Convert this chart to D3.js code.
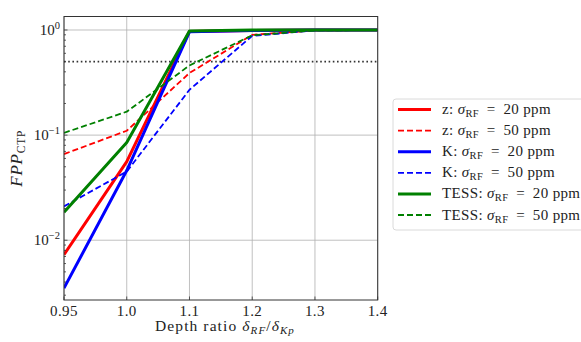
<!DOCTYPE html>
<html>
<head>
<meta charset="utf-8">
<script src="https://cdn.jsdelivr.net/npm/d3@7"></script>
<style>
  body { margin: 0; background: #fff; }
  svg { display: block; font-family: "Liberation Serif", "DejaVu Serif", serif; }
</style>
</head>
<body>
<svg width="581" height="342"></svg>
<script>
// data
var depthRatios = [0.95, 1.0, 1.1, 1.2, 1.3, 1.4],
    xTickLabels = ["0.95", "1.0", "1.1", "1.2", "1.3", "1.4"],
    zSig20 = [0.0073, 0.056, 0.97, 0.99, 1.0, 1.0],
    zSig50 = [0.066, 0.11, 0.39, 0.90, 0.99, 1.0],
    kSig20 = [0.0035, 0.046, 0.96, 0.99, 1.0, 1.0],
    kSig50 = [0.021, 0.045, 0.27, 0.88, 0.99, 1.0],
    tessSig20 = [0.0185, 0.085, 0.98, 1.0, 1.0, 1.0],
    tessSig50 = [0.105, 0.167, 0.46, 0.89, 0.99, 1.0],
    yTickValues = [1, 0.1, 0.01],
    yTickExps = ["0", "\u22121", "\u22122"],
    threshold = 0.5;

var series = [
    {band: "z", sigma: 20, values: zSig20, color: "#ff0000", dashed: false},
    {band: "z", sigma: 50, values: zSig50, color: "#ff0000", dashed: true},
    {band: "K", sigma: 20, values: kSig20, color: "#0000ff", dashed: false},
    {band: "K", sigma: 50, values: kSig50, color: "#0000ff", dashed: true},
    {band: "TESS", sigma: 20, values: tessSig20, color: "#008000", dashed: false},
    {band: "TESS", sigma: 50, values: tessSig50, color: "#008000", dashed: true}
];

var svg = d3.select("svg"),
    plotL = 64, plotR = 377.7, plotT = 16.5, plotB = 300;

var x = d3.scalePoint().domain(xTickLabels).range([plotL, plotR]).padding(0),
    y = d3.scaleLog().domain([0.0027, 1.344]).range([plotB, plotT]);

// grid
var grid = svg.append("g").attr("stroke", "#b0b0b0").attr("stroke-width", 0.8);
grid.selectAll(".vg").data(xTickLabels).enter().append("line")
    .attr("x1", function(d) { return x(d); }).attr("x2", function(d) { return x(d); })
    .attr("y1", plotT).attr("y2", plotB);
grid.selectAll(".hg").data(yTickValues).enter().append("line")
    .attr("x1", plotL).attr("x2", plotR)
    .attr("y1", function(d) { return y(d); }).attr("y2", function(d) { return y(d); });

// threshold line
svg.append("line")
    .attr("x1", plotL).attr("x2", plotR)
    .attr("y1", y(threshold)).attr("y2", y(threshold))
    .attr("stroke", "#333").attr("stroke-width", 1.6)
    .attr("stroke-dasharray", "1.6,2.6");

// series
svg.append("clipPath").attr("id", "plotclip").append("rect")
    .attr("x", plotL).attr("y", plotT).attr("width", plotR - plotL).attr("height", plotB - plotT);

var line = d3.line()
    .x(function(d, i) { return x(xTickLabels[i]); })
    .y(function(d) { return y(d); });

svg.append("g").attr("clip-path", "url(#plotclip)")
    .selectAll("path").data(series).enter().append("path")
    .attr("d", function(d) { return line(d.values); })
    .attr("fill", "none")
    .attr("stroke", function(d) { return d.color; })
    .attr("stroke-width", function(d) { return d.dashed ? 1.8 : 3; })
    .attr("stroke-dasharray", function(d) { return d.dashed ? "6,3" : null; })
    .attr("stroke-linejoin", "round");

// ticks (inward)
var ticks = svg.append("g").attr("stroke", "#333").attr("stroke-width", 0.8);
ticks.selectAll(".xt").data(xTickLabels).enter().append("line")
    .attr("x1", function(d) { return x(d); }).attr("x2", function(d) { return x(d); })
    .attr("y1", plotB).attr("y2", plotB - 3.5);
var minor = [];
[0.001, 0.01, 0.1, 1].forEach(function(dec) {
    for (var k = 2; k <= 9; k++) {
        var v = dec * k;
        if (v >= 0.0027 && v <= 1.344) minor.push(v);
    }
});
ticks.selectAll(".ymn").data(minor).enter().append("line")
    .attr("x1", plotL).attr("x2", plotL + 2)
    .attr("y1", function(d) { return y(d); }).attr("y2", function(d) { return y(d); });
ticks.selectAll(".ymj").data(yTickValues).enter().append("line")
    .attr("x1", plotL).attr("x2", plotL + 3.5)
    .attr("y1", function(d) { return y(d); }).attr("y2", function(d) { return y(d); });

// frame
svg.append("rect")
    .attr("x", plotL).attr("y", plotT).attr("width", plotR - plotL).attr("height", plotB - plotT)
    .attr("fill", "none").attr("stroke", "#333").attr("stroke-width", 1);

// tick labels
svg.selectAll(".xl").data(xTickLabels).enter().append("text")
    .attr("x", function(d) { return x(d); }).attr("y", plotB + 15.5)
    .attr("text-anchor", "middle").attr("font-size", 15).attr("fill", "#222")
    .attr("letter-spacing", 0.4)
    .text(function(d) { return d; });

var yl = svg.selectAll(".yl").data(yTickValues).enter().append("text")
    .attr("x", plotL - 4).attr("y", function(d) { return y(d) + 5; })
    .attr("text-anchor", "end").attr("font-size", 15).attr("fill", "#222");
yl.append("tspan").text("10");
yl.append("tspan").attr("dy", -6).attr("font-size", 10.5)
    .text(function(d, i) { return yTickExps[i]; });

// axis labels
var xlab = svg.append("text")
    .attr("x", 225).attr("y", 331)
    .attr("text-anchor", "middle").attr("font-size", 15.5).attr("fill", "#222")
    .attr("letter-spacing", 1.1).attr("xml:space", "preserve");
xlab.append("tspan").text("Depth ratio ");
xlab.append("tspan").attr("font-style", "italic").text("\u03b4");
xlab.append("tspan").attr("font-style", "italic").attr("font-size", 11).attr("dy", 3).text("RF");
xlab.append("tspan").attr("dy", -3).text("/");
xlab.append("tspan").attr("font-style", "italic").text("\u03b4");
xlab.append("tspan").attr("font-style", "italic").attr("font-size", 11).attr("dy", 3).text("Kp");

var ylab = svg.append("text")
    .attr("transform", "translate(22," + ((plotT + plotB) / 2) + ") rotate(-90)")
    .attr("text-anchor", "middle").attr("font-size", 17).attr("fill", "#222")
    .attr("letter-spacing", 0.8);
ylab.append("tspan").attr("font-style", "italic").text("FPP");
ylab.append("tspan").attr("font-size", 11.5).attr("dy", 3).text("CTP");

// legend
var legend = svg.append("g").attr("transform", "translate(393,99)");
legend.append("rect")
    .attr("width", 200).attr("height", 131).attr("rx", 3)
    .attr("fill", "#fff").attr("stroke", "#d0d0d0").attr("stroke-width", 0.8);

var item = legend.selectAll(".item").data(series).enter().append("g")
    .attr("transform", function(d, i) { return "translate(0," + (10.5 + i * 21.1) + ")"; });
item.append("line")
    .attr("x1", 5).attr("x2", 38).attr("y1", 0).attr("y2", 0)
    .attr("stroke", function(d) { return d.color; })
    .attr("stroke-width", function(d) { return d.dashed ? 1.8 : 3; })
    .attr("stroke-dasharray", function(d) { return d.dashed ? "6,3" : null; });
var lt = item.append("text")
    .attr("x", 49).attr("y", 4.5).attr("font-size", 15).attr("fill", "#222")
    .attr("letter-spacing", 0.35).attr("xml:space", "preserve");
lt.append("tspan").text(function(d) { return d.band + ": "; });
lt.append("tspan").attr("font-style", "italic").text("\u03c3");
lt.append("tspan").attr("font-size", 10.5).attr("dy", 3).text("RF");
lt.append("tspan").attr("dy", -3).text(function(d) { return "\u2002=\u2002" + d.sigma + " ppm"; });
</script>
</body>
</html>
